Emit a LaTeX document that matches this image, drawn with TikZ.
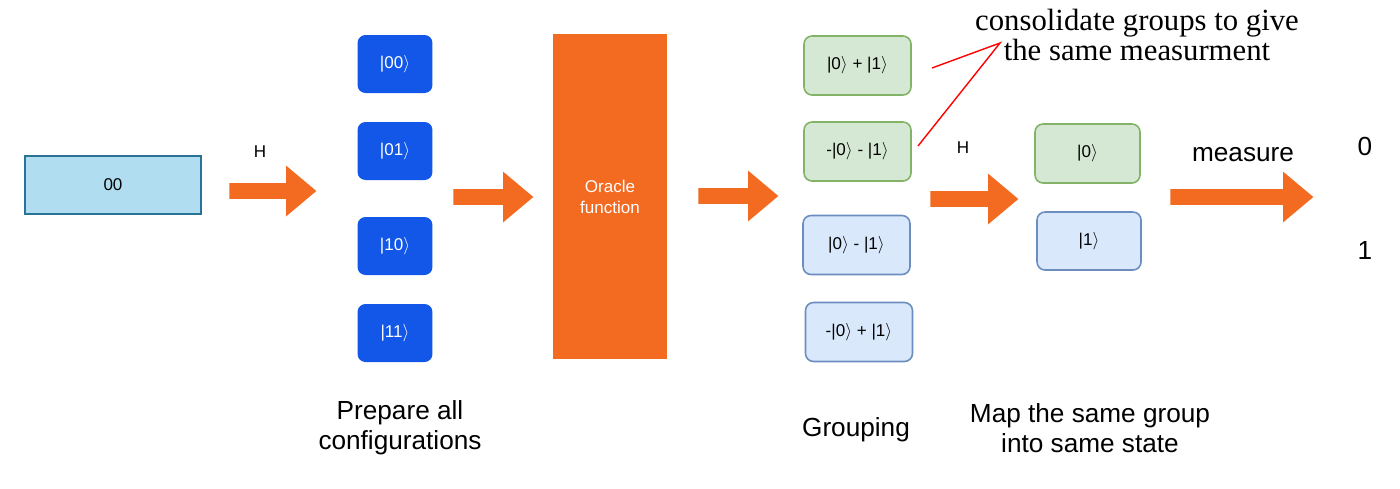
\documentclass[tikz,border=0pt]{standalone}
\usepackage{fontspec}
\setmainfont{Liberation Sans}
\newfontfamily\notefont{Liberation Serif}
\usetikzlibrary{shapes.arrows, positioning}
\definecolor{ketblue}{HTML}{1257E8}
\definecolor{flowor}{HTML}{F36A21}
\definecolor{inputfill}{HTML}{B1DDF0}
\definecolor{inputdraw}{HTML}{2A7397}
\definecolor{grpgreen}{HTML}{D5E8D4}
\definecolor{grpgreend}{HTML}{82B366}
\definecolor{grpblue}{HTML}{DAE8FC}
\definecolor{grpblued}{HTML}{6C8EBF}
\newcommand{\qket}[1]{{|}#1$\rangle$}

\begin{document}
\begin{tikzpicture}[x=0.02cm, y=-0.02cm,
    small/.style={font=\fontsize{9.7}{12}\selectfont},
    caption/.style={font=\fontsize{14.9}{17}\selectfont, align=center},
    ketbox/.style={rectangle, rounded corners=0.16cm, fill=ketblue, draw=none, text=white, small, minimum width=1.5cm, minimum height=1.16cm},
    grpbox/.style={rectangle, rounded corners=0.16cm, fill=grp#1, draw=grp#1d, line width=0.9pt, small, minimum width=2.14cm, minimum height=1.18cm},
    fatarrow/.style={shape=single arrow, fill=flowor, draw=none, inner xsep=0pt, inner ysep=0.15cm, minimum height=#1, single arrow head extend=0.35cm, single arrow tip angle=80, single arrow head indent=0pt, anchor=tail}]
    \useasboundingbox (0,0) rectangle (1400,488);

    % input register
    \node[rectangle, fill=inputfill, draw=inputdraw, line width=1pt, small, minimum width=3.52cm, minimum height=1.16cm] (input) at (113,185) {00};
    \node[fatarrow=1.74cm] (hadA) at (229,191) {};
    \node[small] (hlabA) at (260,152) {H};

    % all configurations
    \node[ketbox] (k00) at (395,64) {\qket{00}};
    \node[ketbox] (k01) at (395,151) {\qket{01}};
    \node[ketbox] (k10) at (395,246) {\qket{10}};
    \node[ketbox] (k11) at (395,333) {\qket{11}};
    \node[caption] (prep) at (400,428) {Prepare all\\configurations};

    \node[fatarrow=1.6cm] (toOracle) at (453,197) {};
    \node[rectangle, fill=flowor, draw=none, text=white, small, align=center, minimum width=2.28cm, minimum height=6.5cm] (oracle) at (610,196.5) {Oracle\\function};
    \node[fatarrow=1.6cm] (fromOracle) at (698,196) {};

    % grouping
    \node[grpbox=green] (gA) at (857.5,65.5) {\qket{0} + \qket{1}};
    \node[grpbox=green] (gB) at (857.5,151.5) {-\qket{0} - \qket{1}};
    \node[grpbox=blue] (gC) at (856.5,245) {\qket{0} - \qket{1}};
    \node[grpbox=blue] (gD) at (859,332) {-\qket{0} + \qket{1}};
    \node[caption] (grouping) at (856,430) {Grouping};

    \node[fatarrow=1.76cm] (hadB) at (930,199) {};
    \node[small] (hlabB) at (963,148) {H};

    % mapped states
    \node[grpbox=green, minimum width=2.1cm] (s0) at (1087.5,153.5) {\qket{0}};
    \node[grpbox=blue, minimum width=2.08cm, minimum height=1.16cm] (s1) at (1089,241) {\qket{1}};
    \node[caption] (mapcap) at (1090,428) {Map the same group\\into same state};

    \node[fatarrow=2.86cm] (meas) at (1170,197) {};
    \node[caption] (measlab) at (1243,155) {measure};
    \node[caption] (out0) at (1365,146) {0};
    \node[caption] (out1) at (1365,250) {1};

    % note
    \node[font=\notefont\fontsize{17.5}{17}\selectfont, align=center] (note) at (1137,35) {consolidate groups to give\\the same measurment};
    \coordinate (apex) at (1000,43);
    \coordinate (endA) at (932,68);
    \coordinate (endB) at (918,146);
    \draw[red, line width=0.8pt] (endA) -- (apex) -- (endB);
\end{tikzpicture}
\end{document}
